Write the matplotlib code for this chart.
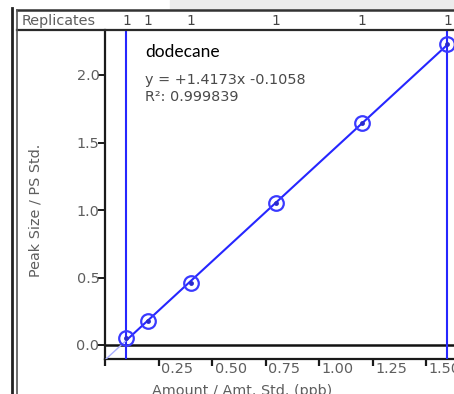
import numpy as np
import matplotlib
matplotlib.use("Agg")
import matplotlib.pyplot as plt
from matplotlib.lines import Line2D
from matplotlib.patches import Rectangle
from matplotlib.transforms import ScaledTranslation, blended_transform_factory

# ---- data ----
compound = "dodecane"
x_amount = [0.1, 0.2, 0.4, 0.8, 1.2, 1.6]
y_ratio = [0.052, 0.178, 0.459, 1.05, 1.644, 2.228]
replicates = [1, 1, 1, 1, 1, 1]
equation = "y = +1.4173x -0.1058"
r_squared = "R\u00b2: 0.999839"
range_limits = [0.1, 1.6]
x_ticks = [0.0, 0.25, 0.50, 0.75, 1.00, 1.25, 1.50]
x_tick_labels = ["", "0.25", "0.50", "0.75", "1.00", "1.25", "1.50"]
y_ticks = [0.0, 0.5, 1.0, 1.5, 2.0]
y_tick_labels = ["0.0", "0.5", "1.0", "1.5", "2.0"]
x_label = "Amount / Amt. Std. (ppb)"
y_label = "Peak Size / PS Std."
header_label = "Replicates"

W, H = 454, 394
DPI = 100
FS = 10.4
GRAY = "#5e5e5e"
BLUE = "#2626ff"

def fx(px):
    return px / W

def fy(py):
    return 1 - py / H

fig = plt.figure(figsize=(W / DPI, H / DPI), dpi=DPI)
fig.patch.set_facecolor("white")

# light gray strip at top right (window background)
fig.patches.append(Rectangle((fx(170), fy(9)), fx(W) - fx(170), 1 - fy(9),
                             transform=fig.transFigure, color="#ececec", zorder=0))

ax = fig.add_axes([fx(105), fy(359), 1 - fx(105), fy(30) - fy(359)])
ax.set_xlim(0, (W - 105) / 214)
ax.set_ylim((345 - 359) / 135, (345 - 30) / 135)
ax.set_facecolor("white")

for s in ["top", "right"]:
    ax.spines[s].set_visible(False)
for s in ["left", "bottom"]:
    ax.spines[s].set_color("#1a1a1a")
    ax.spines[s].set_linewidth(1.6)

# zero line
ax.axhline(0, color="#111111", lw=1.8, zorder=2)

# calibration range limits
for xv in range_limits:
    ax.axvline(xv, color=BLUE, lw=1.5, zorder=3)

# fitted line from the data
coef = np.polyfit(x_amount, y_ratio, 1)
xs = np.array([range_limits[0], range_limits[1]])
ax.plot(xs, np.polyval(coef, xs), color=BLUE, lw=1.5, zorder=4)
xe = np.array([0.0, range_limits[0]])
ax.plot(xe, np.polyval(coef, xe), color="#a9afff", lw=1.0, zorder=4)

# points (circle with dot)
ax.plot(x_amount, y_ratio, linestyle="none", marker="o", markersize=10.5,
        markerfacecolor="none", markeredgecolor="#3a3aff", markeredgewidth=1.6, zorder=5)
ax.plot(x_amount, y_ratio, linestyle="none", marker="o", markersize=3.5,
        markerfacecolor="#2a2acc", markeredgecolor="none", zorder=6)

# ticks
ax.set_xticks(x_ticks)
ax.set_xticklabels(x_tick_labels)
ax.set_yticks(y_ticks)
ax.set_yticklabels(y_tick_labels)
ax.tick_params(axis="x", direction="out", length=5, width=1.6, color="#1a1a1a",
               labelsize=FS, labelcolor=GRAY, pad=-3)
ax.tick_params(axis="y", direction="out", length=5, width=1.4, color="#1a1a1a",
               labelsize=FS, labelcolor=GRAY, pad=-1)
offset = ScaledTranslation(2 / 72, 0, fig.dpi_scale_trans)
for lab in ax.get_xticklabels():
    lab.set_horizontalalignment("left")
    lab.set_transform(lab.get_transform() + offset)

# annotations
fig.text(fx(145), fy(52), compound, fontsize=12.5, family="Lato", color="black",
         ha="left", va="center")
fig.text(fx(145), fy(80), equation, fontsize=FS, color="#4a4a4a", ha="left", va="center")
fig.text(fx(145), fy(97), r_squared, fontsize=FS, color="#4a4a4a", ha="left", va="center")

# axis labels
fig.text(fx(36), fy(210), y_label, rotation=90, fontsize=FS, color=GRAY,
         ha="center", va="center")
fig.text(fx(242), fy(384), x_label, fontsize=FS, color=GRAY, ha="center", va="top")

# header (replicates) bar and frame
fig.lines.append(Line2D([fx(17), 1], [fy(10), fy(10)], transform=fig.transFigure,
                        color="#333333", lw=1.8))
fig.lines.append(Line2D([fx(17), 1], [fy(30), fy(30)], transform=fig.transFigure,
                        color="#2a2a2a", lw=1.6))
fig.lines.append(Line2D([fx(12), fx(12)], [fy(8), 0], transform=fig.transFigure,
                        color="#222222", lw=2.0))
fig.lines.append(Line2D([fx(16.5), fx(16.5)], [fy(10), 0], transform=fig.transFigure,
                        color="#555555", lw=1.2))
fig.text(fx(22), fy(21), header_label, fontsize=FS, color=GRAY, ha="left", va="center")
trans = blended_transform_factory(ax.transData, fig.transFigure)
for xv, r in zip(x_amount, replicates):
    ax.text(xv, fy(21), str(r), transform=trans, fontsize=FS * 0.95, color="#444444",
            ha="center", va="center", clip_on=False)

fig.savefig("out.png", dpi=DPI)
